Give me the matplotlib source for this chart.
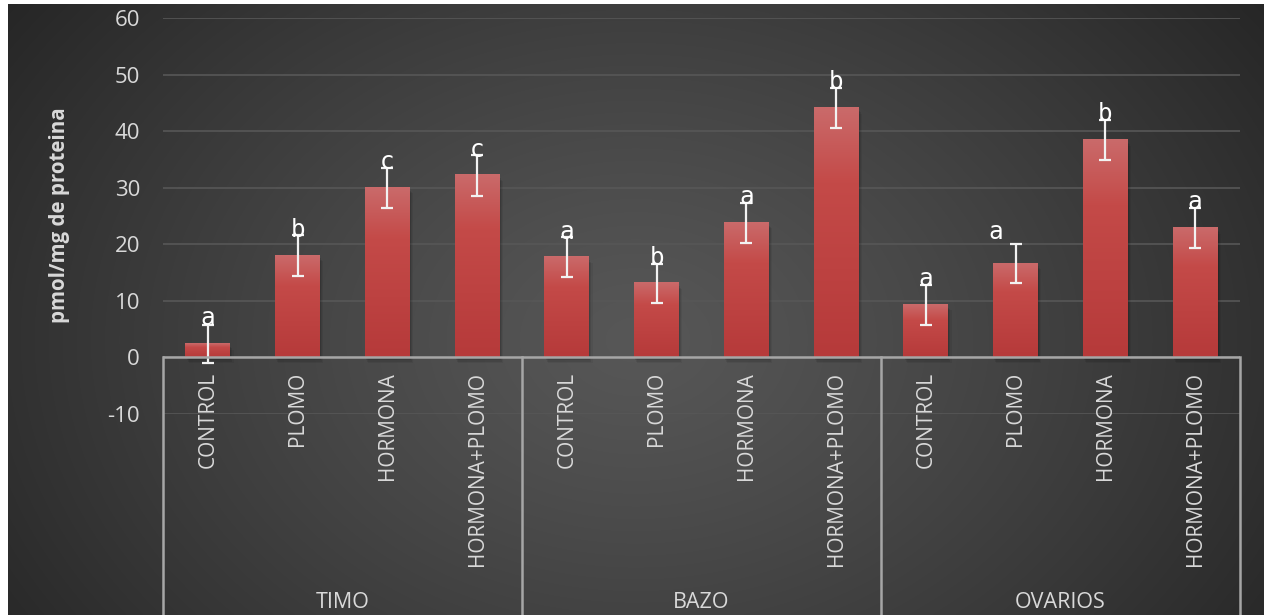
import numpy as np
import matplotlib
matplotlib.use("Agg")
import matplotlib.pyplot as plt
from matplotlib.transforms import blended_transform_factory

groups = ["TIMO", "BAZO", "OVARIOS"]
treatments = ["CONTROL", "PLOMO", "HORMONA", "HORMONA+PLOMO"]
values = [2.4, 18.0, 30.0, 32.2,
          17.7, 13.1, 23.8, 44.1,
          9.3, 16.6, 38.4, 22.9]
errors = [3.3, 3.6, 3.5, 3.6,
          3.5, 3.5, 3.5, 3.6,
          3.5, 3.5, 3.5, 3.6]
letters = ["a", "b", "c", "c",
           "a", "b", "a", "b",
           "a", "a", "b", "a"]
yticks = [-10, 0, 10, 20, 30, 40, 50, 60]

W, H = 1264, 615
fig = plt.figure(figsize=(W / 100, H / 100), dpi=100, facecolor="white")

# dark radial background, white strip on the top/left edges
bg = fig.add_axes([8 / W, 0, 1 - 8 / W, 1 - 4 / H])
bg.set_axis_off()
yy, xx = np.mgrid[0:1:300j, 0:1:600j]
r = np.sqrt(((xx - 0.5) / 0.62) ** 2 + ((yy - 0.55) / 0.95) ** 2)
r = np.clip(r, 0, 1) ** 1.2
c0, c1 = 0x57 / 255, 0x26 / 255
shade = c0 + (c1 - c0) * r
bg.imshow(np.dstack([shade, shade, shade]), aspect="auto", extent=[0, 1, 0, 1],
          interpolation="bilinear")
bg.set_xlim(0, 1)
bg.set_ylim(0, 1)

ax = fig.add_axes([163 / W, 1 - 414 / H, (1240 - 163) / W, (414 - 18) / H])
ax.set_facecolor("none")
for s in ax.spines.values():
    s.set_visible(False)

n = len(values)
x = np.arange(n)

for t in yticks:
    ax.axhline(t, color="#575757", lw=1.2, zorder=1)

# vertical red gradient used to fill each bar
bw = 0.5
top_col = np.array([0xca, 0x6a, 0x6a]) / 255
mid_col = np.array([0xc4, 0x4a, 0x48]) / 255
bot_col = np.array([0xb6, 0x3a, 0x3a]) / 255
img = np.zeros((100, 1, 3))
for i, t in enumerate(np.linspace(0, 1, 100)):
    if t < 0.3:
        img[i, 0] = top_col + (mid_col - top_col) * (t / 0.3)
    else:
        img[i, 0] = mid_col + (bot_col - mid_col) * ((t - 0.3) / 0.7)

for xi, v in zip(x, values):
    # soft shadow
    for k, a in enumerate([0.10, 0.08, 0.06]):
        d = 0.012 * (k + 1)
        ax.add_patch(plt.Rectangle((xi - bw / 2 + d, -0.5 - k * 0.25), bw, v,
                                   color="black", alpha=a, lw=0, zorder=2))
    ax.imshow(img, extent=[xi - bw / 2, xi + bw / 2, 0, v], aspect="auto",
              zorder=3, interpolation="bilinear")

ax.set_xlim(-0.5, n - 0.5)
ax.set_ylim(-10, 60)

ax.errorbar(x, values, yerr=errors, fmt="none", ecolor="#f2f2f2", elinewidth=1.6,
            capsize=4.3, capthick=1.6, zorder=4)

for i, (xi, v, lab) in enumerate(zip(x, values, letters)):
    dx, dy = 0, 18.5
    if i == 9:
        dx, dy = -14, 23
    ax.annotate(lab, (xi, v), xytext=(dx, dy), textcoords="offset points",
                ha="center", va="center", color="white", fontsize=17.5,
                family="DejaVu Sans Mono", zorder=5)

# category axis at zero with boxed group labels below
ax.axhline(0, color="#a6a6a6", lw=1.8, zorder=6)
trans = blended_transform_factory(ax.transData, fig.transFigure)
y0 = fig.transFigure.inverted().transform(ax.transData.transform((0, 0)))[1]
for k in range(len(groups) + 1):
    xs = k * len(treatments) - 0.5
    ax.plot([xs, xs], [y0, 0], color="#a6a6a6", lw=1.8, transform=trans,
            clip_on=False, zorder=6)

for i, xi in enumerate(x):
    ax.text(xi, 1 - 372 / H, treatments[i % len(treatments)], transform=trans,
            rotation=90, ha="center", va="top", color="#d9d9d9", fontsize=15,
            family="Open Sans")

for k, gname in enumerate(groups):
    xc = k * len(treatments) + (len(treatments) - 1) / 2
    ax.text(xc, 1 - 603 / H, gname, transform=trans, ha="center", va="center",
            color="#d9d9d9", fontsize=15.5, family="Open Sans")

ax.set_xticks([])
ax.set_yticks(yticks)
ax.set_yticklabels([str(t) for t in yticks], color="#d9d9d9", fontsize=16,
                   family="Open Sans")
ax.tick_params(axis="y", length=0, pad=16.5)
ax.set_ylabel("pmol/mg de proteina", color="#d9d9d9", fontsize=14.8,
              fontweight="bold", family="Open Sans")
ax.yaxis.set_label_coords(-(163 - 70) / (1240 - 163), (414 - 215) / (414 - 18))

fig.savefig("out.png", dpi=100, facecolor="white")
